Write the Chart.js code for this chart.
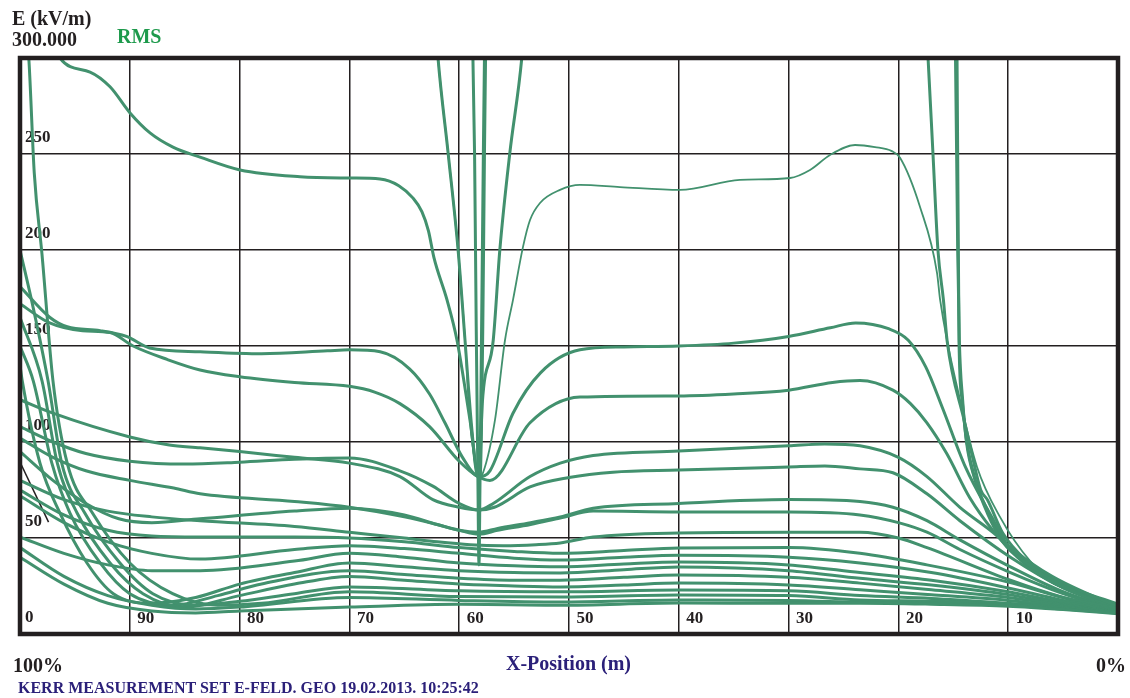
<!DOCTYPE html>
<html>
<head>
<meta charset="utf-8">
<script src="https://cdn.jsdelivr.net/npm/chart.js@4/dist/chart.umd.min.js"></script>
<style>
body{margin:0;background:#fff;}
#wrap{position:relative;width:1130px;height:698px;overflow:hidden;font-family:"Liberation Serif","Times New Roman",serif;font-weight:bold;}
#wrap canvas{position:absolute;left:0;top:0;}
.t{position:absolute;white-space:nowrap;line-height:1;}
</style>
</head>
<body>
<div id="wrap">
<canvas id="myChart" width="1130" height="698"></canvas>
<div class="t" style="left:12px;top:8px;font-size:20px;color:#231f20">E (kV/m)</div>
<div class="t" style="left:12px;top:29px;font-size:20px;color:#231f20">300.000</div>
<div class="t" style="left:117px;top:26px;font-size:20px;color:#1e9a4c">RMS</div>
<div class="t" style="left:13px;top:655px;font-size:20px;color:#231f20">100%</div>
<div class="t" style="left:1096px;top:655px;font-size:20px;color:#231f20">0%</div>
<div class="t" style="left:506px;top:653px;font-size:20px;color:#2b2079">X-Position (m)</div>
<div class="t" style="left:18px;top:680px;font-size:16px;color:#2b2079">KERR MEASUREMENT SET E-FELD. GEO 19.02.2013. 10:25:42</div>
</div>
<script>
// x axis ticks (position in %), y axis ticks (kV/m)
var xTicks = [100, 90, 80, 70, 60, 50, 40, 30, 20, 10, 0];
var yTicks = [0, 50, 100, 150, 200, 250, 300];

// curves, each point is [x position, E]
// values above 300 are off the top of the plot
var topLeft = [[100,340],[97,312],[96.36,300],[93.62,292.7],[91.8,285],[89.98,271.4],[88.16,261],[86.07,253.6],[83.61,248.4],[79.96,241.7],[74.5,238.2],[69.95,237.5],[67.21,237],[65.5,233.5],[64.2,227],[63.4,220],[62.8,210],[62.3,196],[61.11,174],[60.2,153],[59.02,111.5],[58.2,81.8],[57.9,120],[56.9,153],[56.3,200],[55.4,250],[54.3,300],[53.9,330],[14.8,330],[14.66,300],[14.48,153],[14.2,122],[13.8,101],[13.0,80],[11.9,64.6],[10.5,49],[8.0,36],[5.3,25.5],[0,15]];
var thinPeak = [[100,330],[62.3,330],[61.93,300],[61.0,250],[60.1,200],[59.47,153],[59.02,111],[58.4,85],[58.15,82],[57.83,84],[56.74,111.5],[55.83,153],[55.1,174],[54.19,201.6],[53.55,215.6],[52.64,224.5],[50.82,231.3],[49.0,233.9],[45.36,232.8],[39.89,231.3],[34.43,236.5],[29.87,237.5],[28.05,241.7],[26.23,249.5],[23.95,254.7],[22.13,253.6],[20.6,251.5],[19.85,248],[18.03,222.4],[16.48,188],[16.2,174],[14.39,122],[12.84,87],[10.75,61],[8.0,38],[5.3,25],[0,14.5]];
var tallA = [[100,330],[62.3,330],[61.93,300],[61.0,250],[60.1,200],[59.47,153],[58.9,110],[58.3,82],[58.1,82],[57.85,160],[57.7,250],[57.6,300],[57.5,330],[17.6,330],[17.3,300],[16.85,250],[16.4,200],[15.9,174],[15.57,153],[14.0,111],[13.4,96],[12.5,75],[11.9,70],[10.5,52.6],[8.4,38.5],[5.3,26.6],[0,15.6]];
var tallB = [[100,330],[58.9,330],[58.75,300],[58.6,250],[58.45,160],[58.3,82],[58.2,36],[58.1,82],[57.8,250],[57.7,300],[57.6,330],[15.0,330],[14.8,300],[14.6,200],[14.45,153],[14.15,122],[13.8,100],[13.0,80],[11.9,63],[10.5,48],[8.0,35],[5.3,25],[0,14.8]];
var u150 = [[100,181],[97.3,165],[95.7,160],[92.7,158],[90.3,155],[88.2,149],[83.6,147],[78,146],[72,147.5],[70,148],[67.2,147],[64.5,138],[62.7,125],[61.3,110],[59.7,92],[58.2,82],[57.2,85],[55.1,115],[52.6,136],[49,148],[45,149.5],[40,150],[35,151.5],[30,155],[26.2,159.5],[23.9,162],[20.9,159],[19.1,153],[17.5,139],[16,118],[13.9,87],[11.5,61],[9.9,45],[6.9,30],[0,14]];
var u130 = [[100,172],[97.3,162],[94.3,158],[91.8,157],[89.7,150],[86.6,143],[83.6,137.5],[80,134],[75,131],[70,129],[67.7,126],[65.4,120],[62.7,108],[60,90],[58.3,82],[57.2,80],[53.55,110],[49,123.4],[40,124],[35,125],[30,127],[26,131],[23.5,132],[20.5,127],[18.9,120],[17.4,110],[15.6,94],[13.5,71],[11.4,54],[9.8,44],[6,28],[0,13]];
var u95 = [[100,122],[97,115],[90,102.6],[86.4,98.4],[83.6,97],[80,95],[75,92],[70,89],[65.4,82],[62.4,70],[60,66],[58.2,64.6],[56.9,68],[53.55,82],[50.8,89],[47.8,93],[40,95.3],[30,98],[26.7,99],[23.5,98],[20,92],[17.4,82],[14.4,66],[11.4,53],[9.8,45],[6,30],[0,14]];
var u85 = [[100,108],[97,100],[94,94],[90,90],[85,88.5],[80,89.5],[75,91],[70,91.7],[65.4,85],[62.4,77],[60,68],[58.2,64.6],[56.8,66],[53.55,76.6],[50,81.5],[46,84.3],[40,85.4],[30,87],[26.7,87.5],[23.5,86],[20.5,84],[17.4,73],[14.4,59],[9.8,40],[5,24],[0,13]];
var u68 = [[100,102],[97,92],[94,85],[90,80],[86,76],[83.6,73],[75,69],[70,66],[65,61],[62,57],[60,54],[58.2,53],[56.5,55],[53.5,58],[50.8,61],[47.8,65.5],[40,68],[30,70],[23.5,69],[20.5,66],[17.4,59],[14.4,49],[9.8,35],[5,22],[0,12.5]];
var u63 = [[100,95],[97,80],[94,68],[91,60],[88,58],[83.6,60],[75,64],[70,65.5],[65,62],[62,57],[60,54],[58.2,52],[56.5,54],[53.5,57],[50.8,60.4],[47.8,64],[40,63.5],[30,63.5],[23.5,62],[20,58],[17.4,53],[14.4,44],[9.8,32],[5,21],[0,12]];
var u53 = [[100,80],[96,70],[92,64],[88,61],[83.6,59],[75,56],[70,53],[65,50],[62,48],[59,46.5],[56,46],[53,46.5],[50.8,47.4],[47.8,50.5],[40,52.6],[30,53],[23.5,53],[20,50],[17.4,45],[9.8,28],[5,19],[0,12]];
var b45 = [[100,75],[96,62],[92,54],[88,51],[83.6,50.5],[75,50.5],[70,50],[65,48],[60,45],[55,43],[50.8,42],[45,43.5],[40,44.8],[30,45],[23.5,42],[17.4,36],[10,27],[5,19],[0,13]];
var b41 = [[100,72],[96,58],[92,48],[88,42],[83.6,39],[75,44],[70,46],[65,44.5],[60,42],[55,39.5],[50.8,38.5],[45,40],[40,41],[30,40],[23.5,37],[17,32],[10,24],[5,17.5],[0,12.5]];
var b37 = [[100,50.5],[96,42],[92,36],[88,33],[83.6,33],[75,38],[70,42],[65,40],[60,37],[55,35.5],[50.8,35],[45,36.5],[40,37.5],[30,36],[23.5,32],[17,28],[10,22],[5,16.5],[0,12]];
var s35 = [[100,140],[99.8,132],[98.18,89],[96.36,63],[93.9,37],[91.5,21],[88,16],[84,19],[80,26],[75,32],[70,37],[65,35],[60,33],[55,32],[50.8,31.8],[45,33.5],[40,34.9],[30,33],[23.5,29],[17,25.5],[10,20.5],[5,15.5],[0,11.8]];
var s31 = [[100,150],[98.8,132],[97.1,89],[95.45,63],[92.7,37],[90,21],[86,15],[82,20],[78,26],[70,33],[65,31],[60,29],[55,28],[50.8,28],[45,29.5],[40,30.7],[30,29.5],[23.5,26.5],[17,23],[10,19],[5,15],[0,11.5]];
var s27 = [[100,165],[98,132],[96.6,89],[94.8,63],[91.8,37],[88.8,21],[85,14],[80,20],[75,26],[70,30],[65,28],[60,26],[55,25],[50.8,24.5],[45,25.5],[40,26.5],[30,25.5],[23.5,23],[17,20.5],[10,17.5],[5,14.5],[0,11.3]];
var s23 = [[100,200],[98.8,170],[97.45,132],[96.2,89],[94.1,63],[90.9,37],[87.9,21],[84,15],[80,17],[75,21],[70,24.5],[60,22.5],[50.8,22],[40,22.9],[30,22.5],[23.5,20],[17,18.5],[10,16],[5,14],[0,11.2]];
var s20 = [[100,345],[99.2,300],[98.7,240],[98.0,198],[97.0,132],[95.7,89],[93.4,63],[90,37],[86.1,21],[82,15],[78,16],[70,22],[60,19.5],[50.8,19.3],[40,20.3],[30,20],[23.5,17.7],[17,17],[10,15.5],[5,13.5],[0,11]];
var b18 = [[100,45],[96,30],[92,20],[88,15],[84,13],[80,14],[70,19],[60,17.5],[50.8,16.7],[40,17.7],[30,17.5],[23.5,16.5],[17,16],[10,15],[5,13],[0,10.8]];
var b16 = [[100,40],[96,26],[92,16],[88,12],[84,11],[80,12],[70,14],[60,15.5],[50.8,15],[40,16.1],[30,16],[23.5,16],[17,15.5],[10,14.5],[5,12.8],[0,10.6]];
var blackLine = [[100,89.6],[97.4,58.3]];

var green = '#42916e';
var ink = '#231f20';

function curve(pts, width, color){
    return {
        data: pts.map(function(p){ return {x: p[0], y: p[1]}; }),
        borderColor: color || green,
        borderWidth: width || 3,
        pointRadius: 0,
        fill: false,
        cubicInterpolationMode: 'monotone'
    };
}

var datasets = [
    curve(b16), curve(b18), curve(s20), curve(s23), curve(s27), curve(s31), curve(s35),
    curve(b37), curve(b41), curve(b45), curve(u53), curve(u63), curve(u68), curve(u85),
    curve(u95), curve(u130), curve(u150), curve(tallA), curve(tallB), curve(topLeft),
    curve(thinPeak, 1.8), curve(blackLine, 1.5, ink)
];

// thick frame around the plot
var framePlugin = {
    id: 'frame',
    afterDatasetsDraw: function(chart){
        var a = chart.chartArea, c = chart.ctx;
        c.save();
        c.strokeStyle = ink;
        c.lineWidth = 4.5;
        c.strokeRect(a.left, a.top, a.right - a.left, a.bottom - a.top);
        c.restore();
    }
};

var ctx = document.getElementById('myChart').getContext('2d');
var chart = new Chart(ctx, {
    type: 'line',
    data: {datasets: datasets},
    options: {
        responsive: false,
        animation: false,
        layout: {padding: {left: 20, right: 12, top: 58, bottom: 64}},
        plugins: {legend: {display: false}, tooltip: {enabled: false}},
        scales: {
            x: {
                type: 'linear', reverse: true, min: 0, max: 100,
                afterBuildTicks: function(s){ s.ticks = xTicks.map(function(v){ return {value: v}; }); },
                afterFit: function(s){ s.height = 0; },
                grid: {color: ink, lineWidth: 1.5, drawTicks: false},
                border: {display: false},
                ticks: {
                    mirror: true, padding: 5, labelOffset: 16, maxRotation: 0, autoSkip: false,
                    color: ink, font: {family: 'Liberation Serif', size: 17, weight: 'bold'},
                    callback: function(v){ return (v === 0 || v === 100) ? '' : v; }
                }
            },
            y: {
                min: 0, max: 300,
                afterBuildTicks: function(s){ s.ticks = yTicks.map(function(v){ return {value: v}; }); },
                afterFit: function(s){ s.width = 0; },
                grid: {color: ink, lineWidth: 1.5, drawTicks: false},
                border: {display: false},
                ticks: {
                    mirror: true, padding: 5, labelOffset: -16, autoSkip: false,
                    color: ink, font: {family: 'Liberation Serif', size: 17, weight: 'bold'},
                    callback: function(v){ return v === 300 ? '' : v; }
                }
            }
        }
    },
    plugins: [framePlugin]
});
</script>
</body>
</html>
